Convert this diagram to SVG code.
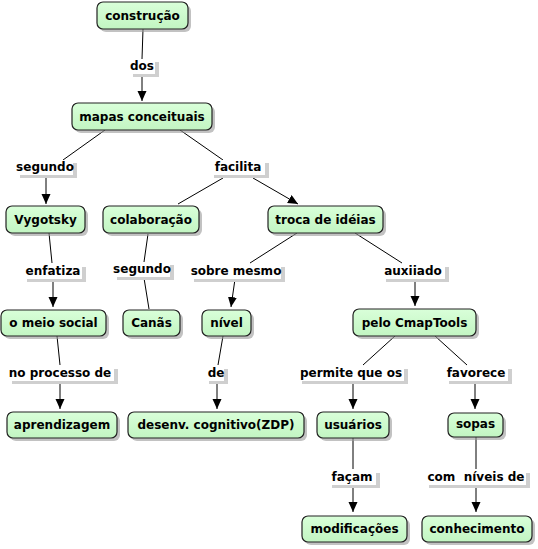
<svg xmlns="http://www.w3.org/2000/svg" width="538" height="549" viewBox="0 0 538 549">
<defs>
<linearGradient id="g" x1="0" y1="0" x2="0" y2="1">
<stop offset="0" stop-color="#d9ffd9"/>
<stop offset="1" stop-color="#c2f5c2"/>
</linearGradient>
<marker id="arr" markerUnits="userSpaceOnUse" markerWidth="11" markerHeight="10" refX="10" refY="4.5" orient="auto">
<path d="M0,0 L10,4.5 L0,9 z" fill="#000"/>
</marker>
</defs>
<style>
text{font-family:"DejaVu Sans","Liberation Sans",sans-serif;font-weight:bold;font-size:12px;fill:#000;text-anchor:middle;white-space:pre}
.n{fill:url(#g);stroke:#222;stroke-width:1.2}
.ns{fill:#9a9a9a;opacity:0.6}
.lb{fill:#fff}
.ls{fill:#cfcfcf}
.c line{stroke:#000;stroke-width:1}
.a{marker-end:url(#arr)}
</style>
<rect width="538" height="549" fill="#fff"/>
<g class="c" id="connectors">
<line x1="143" y1="29" x2="142" y2="59"/>
<line class="a" x1="142" y1="74" x2="142" y2="101"/>
<line x1="105" y1="130" x2="63" y2="160"/>
<line class="a" x1="46" y1="175" x2="46" y2="204"/>
<line x1="180" y1="130" x2="223" y2="160"/>
<line x1="223" y1="178" x2="178" y2="204"/>
<line class="a" x1="253" y1="178" x2="298" y2="204"/>
<line x1="49" y1="233" x2="52" y2="263"/>
<line class="a" x1="53" y1="279" x2="53" y2="307"/>
<line x1="148" y1="234" x2="144" y2="262"/>
<line x1="144" y1="278" x2="149" y2="309"/>
<line x1="297" y1="233" x2="250" y2="263"/>
<line class="a" x1="235" y1="279" x2="231" y2="307"/>
<line x1="355" y1="233" x2="402" y2="263"/>
<line class="a" x1="415" y1="279" x2="415" y2="306"/>
<line x1="57" y1="336" x2="60" y2="365"/>
<line class="a" x1="60" y1="381" x2="60" y2="409"/>
<line x1="223" y1="336" x2="218" y2="365"/>
<line class="a" x1="217" y1="381" x2="217" y2="409"/>
<line x1="395" y1="336" x2="363" y2="365"/>
<line class="a" x1="353" y1="381" x2="353" y2="409"/>
<line x1="435" y1="336" x2="467" y2="365"/>
<line class="a" x1="475" y1="381" x2="475" y2="409"/>
<line x1="353" y1="438" x2="353" y2="469"/>
<line class="a" x1="353" y1="485" x2="353" y2="512"/>
<line x1="476" y1="437" x2="476" y2="469"/>
<line class="a" x1="476" y1="485" x2="476" y2="512"/>
</g>
<g id="labels">
<g id="l-dos"><rect class="ls" x="133" y="62" width="26" height="15"/><rect class="lb" x="129" y="59" width="26" height="15"/><text x="142" y="70">dos</text></g>
<g id="l-segundo1"><rect class="ls" x="20" y="163" width="57" height="15"/><rect class="lb" x="16" y="160" width="57" height="15"/><text x="45" y="171">segundo</text></g>
<g id="l-facilita"><rect class="ls" x="214" y="163" width="55" height="15"/><rect class="lb" x="210" y="160" width="55" height="15"/><text x="238" y="171">facilita</text></g>
<g id="l-enfatiza"><rect class="ls" x="27" y="267" width="59" height="15"/><rect class="lb" x="23" y="264" width="59" height="15"/><text x="53" y="275">enfatiza</text></g>
<g id="l-segundo2"><rect class="ls" x="117" y="265" width="57" height="15"/><rect class="lb" x="113" y="262" width="57" height="15"/><text x="142" y="273">segundo</text></g>
<g id="l-sobre"><rect class="ls" x="194" y="267" width="91" height="15"/><rect class="lb" x="190" y="264" width="91" height="15"/><text x="236" y="275">sobre mesmo</text></g>
<g id="l-aux"><rect class="ls" x="386" y="267" width="63" height="15"/><rect class="lb" x="382" y="264" width="63" height="15"/><text x="413" y="275">auxiiado</text></g>
<g id="l-noproc"><rect class="ls" x="12" y="369" width="106" height="15"/><rect class="lb" x="8" y="366" width="106" height="15"/><text x="60" y="377">no processo de</text></g>
<g id="l-de"><rect class="ls" x="209" y="369" width="19" height="15"/><rect class="lb" x="205" y="366" width="19" height="15"/><text x="216" y="377">de</text></g>
<g id="l-permite"><rect class="ls" x="302" y="369" width="106" height="15"/><rect class="lb" x="298" y="366" width="106" height="15"/><text x="351" y="377">permite que os</text></g>
<g id="l-favorece"><rect class="ls" x="449" y="369" width="63" height="15"/><rect class="lb" x="445" y="366" width="63" height="15"/><text x="476" y="377">favorece</text></g>
<g id="l-facam"><rect class="ls" x="332" y="473" width="48" height="15"/><rect class="lb" x="328" y="470" width="48" height="15"/><text x="352" y="481">façam</text></g>
<g id="l-com"><rect class="ls" x="429" y="473" width="101" height="15"/><rect class="lb" x="425" y="470" width="101" height="15"/><text x="476" y="481">com  níveis de</text></g>
</g>
<g id="construcao"><rect class="ns" x="100" y="5" width="91" height="27" rx="6"/><rect class="n" x="97" y="2" width="91" height="27" rx="6"/><text x="142.5" y="20">construção</text></g>
<g id="mapas"><rect class="ns" x="75" y="106" width="140" height="27" rx="6"/><rect class="n" x="72" y="103" width="140" height="27" rx="6"/><text x="142" y="121">mapas conceituais</text></g>
<g id="vygotsky"><rect class="ns" x="9" y="209" width="79" height="27" rx="6"/><rect class="n" x="6" y="206" width="79" height="27" rx="6"/><text x="45.5" y="224">Vygotsky</text></g>
<g id="colaboracao"><rect class="ns" x="106" y="209" width="96" height="27" rx="6"/><rect class="n" x="103" y="206" width="96" height="27" rx="6"/><text x="151" y="224">colaboração</text></g>
<g id="troca"><rect class="ns" x="271" y="209" width="115" height="27" rx="6"/><rect class="n" x="268" y="206" width="115" height="27" rx="6"/><text x="325.5" y="224">troca de idéias</text></g>
<g id="meio"><rect class="ns" x="4" y="313" width="105" height="26" rx="6"/><rect class="n" x="1" y="310" width="105" height="26" rx="6"/><text x="53.5" y="327">o meio social</text></g>
<g id="canas"><rect class="ns" x="126" y="313" width="57" height="26" rx="6"/><rect class="n" x="123" y="310" width="57" height="26" rx="6"/><text x="151.5" y="327">Canãs</text></g>
<g id="nivel"><rect class="ns" x="205" y="313" width="49" height="26" rx="6"/><rect class="n" x="202" y="310" width="49" height="26" rx="6"/><text x="226.5" y="327">nível</text></g>
<g id="cmaptools"><rect class="ns" x="356" y="312" width="123" height="27" rx="6"/><rect class="n" x="353" y="309" width="123" height="27" rx="6"/><text x="414.5" y="327">pelo CmapTools</text></g>
<g id="aprendizagem"><rect class="ns" x="10" y="415" width="110" height="26" rx="6"/><rect class="n" x="7" y="412" width="110" height="26" rx="6"/><text x="62" y="429">aprendizagem</text></g>
<g id="desenv"><rect class="ns" x="131" y="415" width="176" height="26" rx="6"/><rect class="n" x="128" y="412" width="176" height="26" rx="6"/><text x="216" y="429">desenv. cognitivo(ZDP)</text></g>
<g id="usuarios"><rect class="ns" x="320" y="415" width="72" height="26" rx="6"/><rect class="n" x="317" y="412" width="72" height="26" rx="6"/><text x="353" y="429">usuários</text></g>
<g id="sopas"><rect class="ns" x="451" y="416" width="55" height="24" rx="6"/><rect class="n" x="448" y="413" width="55" height="24" rx="6"/><text x="475.5" y="428">sopas</text></g>
<g id="modificacoes"><rect class="ns" x="305" y="519" width="105" height="26" rx="6"/><rect class="n" x="302" y="516" width="105" height="26" rx="6"/><text x="354.5" y="533">modificações</text></g>
<g id="conhecimento"><rect class="ns" x="425" y="519" width="110" height="26" rx="6"/><rect class="n" x="422" y="516" width="110" height="26" rx="6"/><text x="477" y="533">conhecimento</text></g>
</svg>
